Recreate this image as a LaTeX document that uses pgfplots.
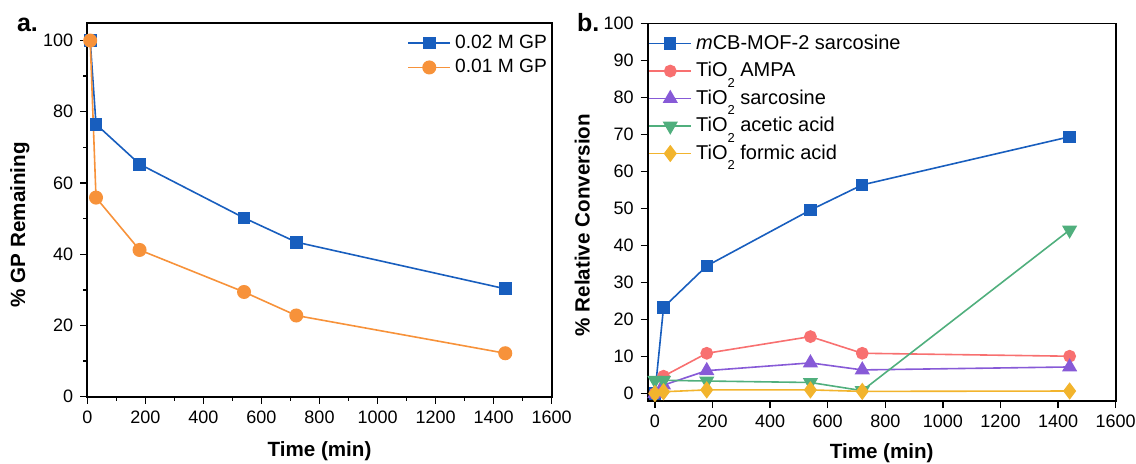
\documentclass[border=0pt]{standalone}
\usepackage{fontspec}
\setmainfont{Liberation Sans}
\usepackage{pgfplots}
\pgfplotsset{compat=1.18}
\definecolor{cblue}{RGB}{24,94,190}
\definecolor{corange}{RGB}{247,146,58}
\definecolor{cred}{RGB}{248,112,112}
\definecolor{cpurple}{RGB}{135,90,215}
\definecolor{cgreen}{RGB}{80,175,125}
\definecolor{cyellow}{RGB}{242,180,45}
\newcommand{\sub}[1]{\raisebox{-1.0ex}[0pt][7.3pt]{\fontsize{6.5}{7}\selectfont #1}}
\pgfplotsset{common/.style={
  scale only axis,
  axis line style={line width=0.9pt},
  tick style={line width=0.7pt, black},
  tick align=outside, xtick pos=bottom, ytick pos=left,
  major tick length=3.5pt, minor tick length=2pt,
  /pgf/number format/assume math mode=true,
  /pgf/number format/1000 sep={},
  tick label style={font=\fontsize{9}{10}\selectfont},
  label style={font=\bfseries\fontsize{10.3}{12}\selectfont},
  legend style={draw=none, fill=none},
  legend cell align=left,
  legend image code/.code={\draw[mark repeat=2,mark phase=2] plot coordinates {(0pt,0pt)(10.5pt,0pt)(21pt,0pt)};},
  every axis plot/.append style={line width=0.8pt},
}}
\begin{document}
\begin{tikzpicture}
\path[use as bounding box] (0,0) rectangle (568pt,231.5pt);
\node[anchor=base west, font=\bfseries\fontsize{12.5}{14}\selectfont] at (5pt,216pt) {a.};
\node[anchor=base west, font=\bfseries\fontsize{12.5}{14}\selectfont] at (285pt,215.6pt) {b.};
\begin{axis}[common, at={(43.65pt,33.15pt)}, anchor=south west,
  width=232.2pt, height=187pt,
  xmin=0, xmax=1600, ymin=0, ymax=105,
  xtick={0,200,...,1600}, ytick={0,20,...,100},
  minor x tick num=1, minor y tick num=1,
  xlabel={Time (min)}, ylabel={\% GP Remaining},
  xlabel style={yshift=-2pt},
  ylabel style={at={(ticklabel cs:0.46)}},
  legend style={at={(1.012,0.99)}, anchor=north east, font=\fontsize{9.6}{11}\selectfont}]
\addplot[color=cblue, mark=square*, mark size=2.8pt] coordinates {
 (10,100) (30,76.5) (180,65.3) (540,50.2) (720,43.4) (1440,30.3)};
\addlegendentry{0.02 M GP}
\addplot[color=corange, mark=*, mark size=3.1pt] coordinates {
 (10,100) (30,55.9) (180,41.2) (540,29.4) (720,22.8) (1440,12.2)};
\addlegendentry{0.01 M GP}
\end{axis}
\begin{axis}[common, at={(323.85pt,31pt)}, anchor=south west,
  width=234pt, height=188.75pt,
  xmin=-25, xmax=1600, ymin=-2, ymax=100,
  xtick={0,200,...,1600}, ytick={0,10,...,100},
  xlabel={Time (min)}, ylabel={\% Relative Conversion},
  xlabel style={yshift=-1pt},
  ylabel style={at={(ticklabel cs:0.466)}},
  legend style={at={(-0.012,0.995)}, anchor=north west, font=\fontsize{10}{11}\selectfont, nodes={inner ysep=2.5pt}}]
\addplot[color=cblue, mark=square*, mark size=2.7pt] coordinates {
 (0,0) (30,23.3) (180,34.5) (540,49.6) (720,56.4) (1440,69.4)};
\addlegendentry{\textit{m}CB-MOF-2 sarcosine}
\addplot[color=cred, mark=*, mark size=2.8pt] coordinates {
 (0,0) (30,4.7) (180,10.9) (540,15.4) (720,10.9) (1440,10.1)};
\addlegendentry{TiO\sub{2} AMPA}
\addplot[color=cpurple, mark=triangle*, mark size=3.6pt] coordinates {
 (0,0) (30,2.3) (180,6.2) (540,8.3) (720,6.4) (1440,7.2)};
\addlegendentry{TiO\sub{2} sarcosine}
\addplot[color=cgreen, mark=triangle*, mark options={rotate=180}, mark size=3.6pt] coordinates {
 (0,3.6) (30,3.6) (180,3.4) (540,3.0) (720,0.8) (1440,44.2)};
\addlegendentry{TiO\sub{2} acetic acid}
\addplot[color=cyellow, mark=diamond*, mark size=3.7pt] coordinates {
 (0,0) (30,0.5) (180,1.0) (540,1.0) (720,0.6) (1440,0.7)};
\addlegendentry{TiO\sub{2} formic acid}
\end{axis}
\end{tikzpicture}
\end{document}
